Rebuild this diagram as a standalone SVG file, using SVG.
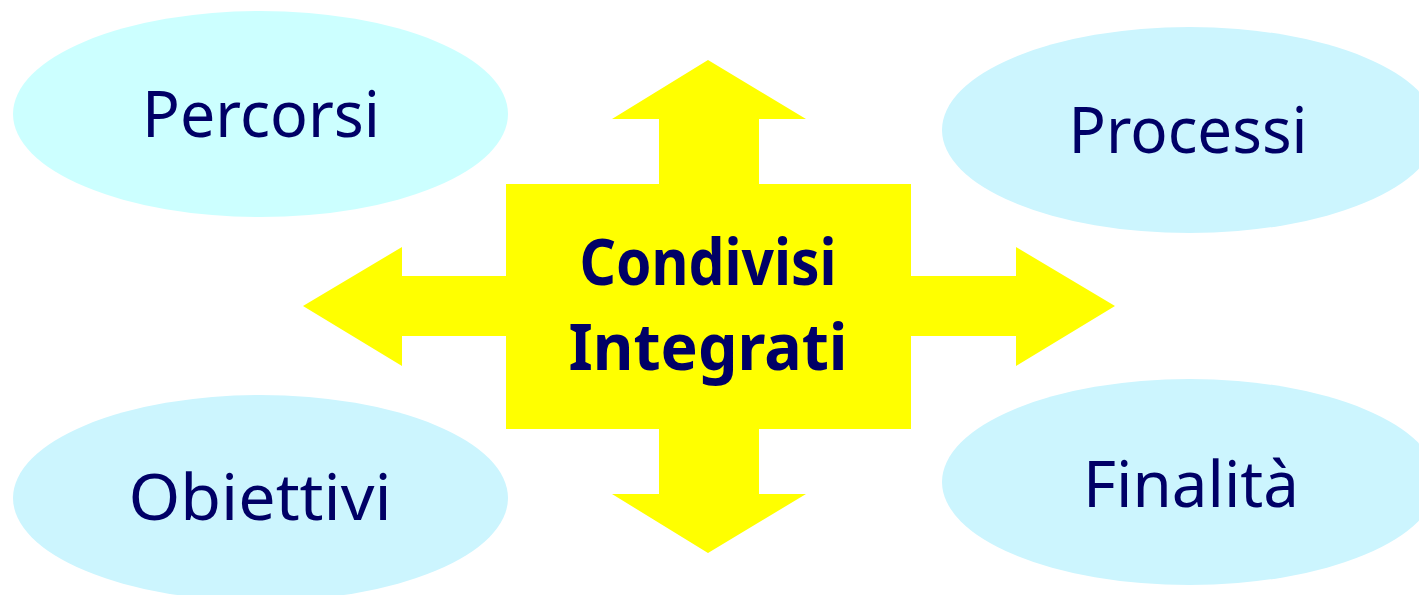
<svg xmlns="http://www.w3.org/2000/svg" width="1419" height="595" viewBox="0 0 1419 595">
  <style>
    .bubble { fill: #CCF5FE; }
    .bubble1 { fill: #CCFFFF; }
    .lbl { font-family: "Comic Sans MS", "Noto Sans", "DejaVu Sans", sans-serif; font-size: 64px; fill: #000066; text-anchor: middle; }
    .ctr { font-family: "Comic Sans MS", "Noto Sans", "DejaVu Sans", sans-serif; font-size: 64px; font-weight: bold; fill: #000066; text-anchor: middle; }
    .yel { fill: #FFFF00; stroke: none; }
  </style>
  <rect x="0" y="0" width="1419" height="595" fill="#FFFFFF"/>
  <g id="connectors">
    <polygon class="yel" points="708,60 806,119 759,119 759,190 659,190 659,119 612,119"/>
    <polygon class="yel" points="708,553 806,494 759,494 759,423 659,423 659,494 612,494"/>
    <polygon class="yel" points="303,306 402,247 402,276 512,276 512,336 402,336 402,366"/>
    <polygon class="yel" points="1115,306 1016,247 1016,276 905,276 905,336 1016,336 1016,366"/>
  </g>
  <g id="node-percorsi">
    <ellipse class="bubble1" cx="260.5" cy="114" rx="247.5" ry="103"/>
    <text class="lbl" x="261" y="137" textLength="238" lengthAdjust="spacingAndGlyphs">Percorsi</text>
  </g>
  <g id="node-processi">
    <ellipse class="bubble" cx="1189.5" cy="130" rx="247.5" ry="103"/>
    <text class="lbl" x="1188" y="153" textLength="239" lengthAdjust="spacingAndGlyphs">Processi</text>
  </g>
  <g id="node-obiettivi">
    <ellipse class="bubble" cx="260.5" cy="498" rx="247.5" ry="103"/>
    <text class="lbl" x="260" y="520" textLength="263" lengthAdjust="spacingAndGlyphs">Obiettivi</text>
  </g>
  <g id="node-finalita">
    <ellipse class="bubble" cx="1189.5" cy="482" rx="247.5" ry="103"/>
    <text class="lbl" x="1191" y="507" textLength="216" lengthAdjust="spacingAndGlyphs">Finalità</text>
  </g>
  <g id="node-center">
    <rect class="yel" x="506" y="184" width="405" height="245"/>
    <text class="ctr" x="708" y="285" textLength="257" lengthAdjust="spacingAndGlyphs">Condivisi</text>
    <text class="ctr" x="708" y="370" textLength="279" lengthAdjust="spacingAndGlyphs">Integrati</text>
  </g>
</svg>
